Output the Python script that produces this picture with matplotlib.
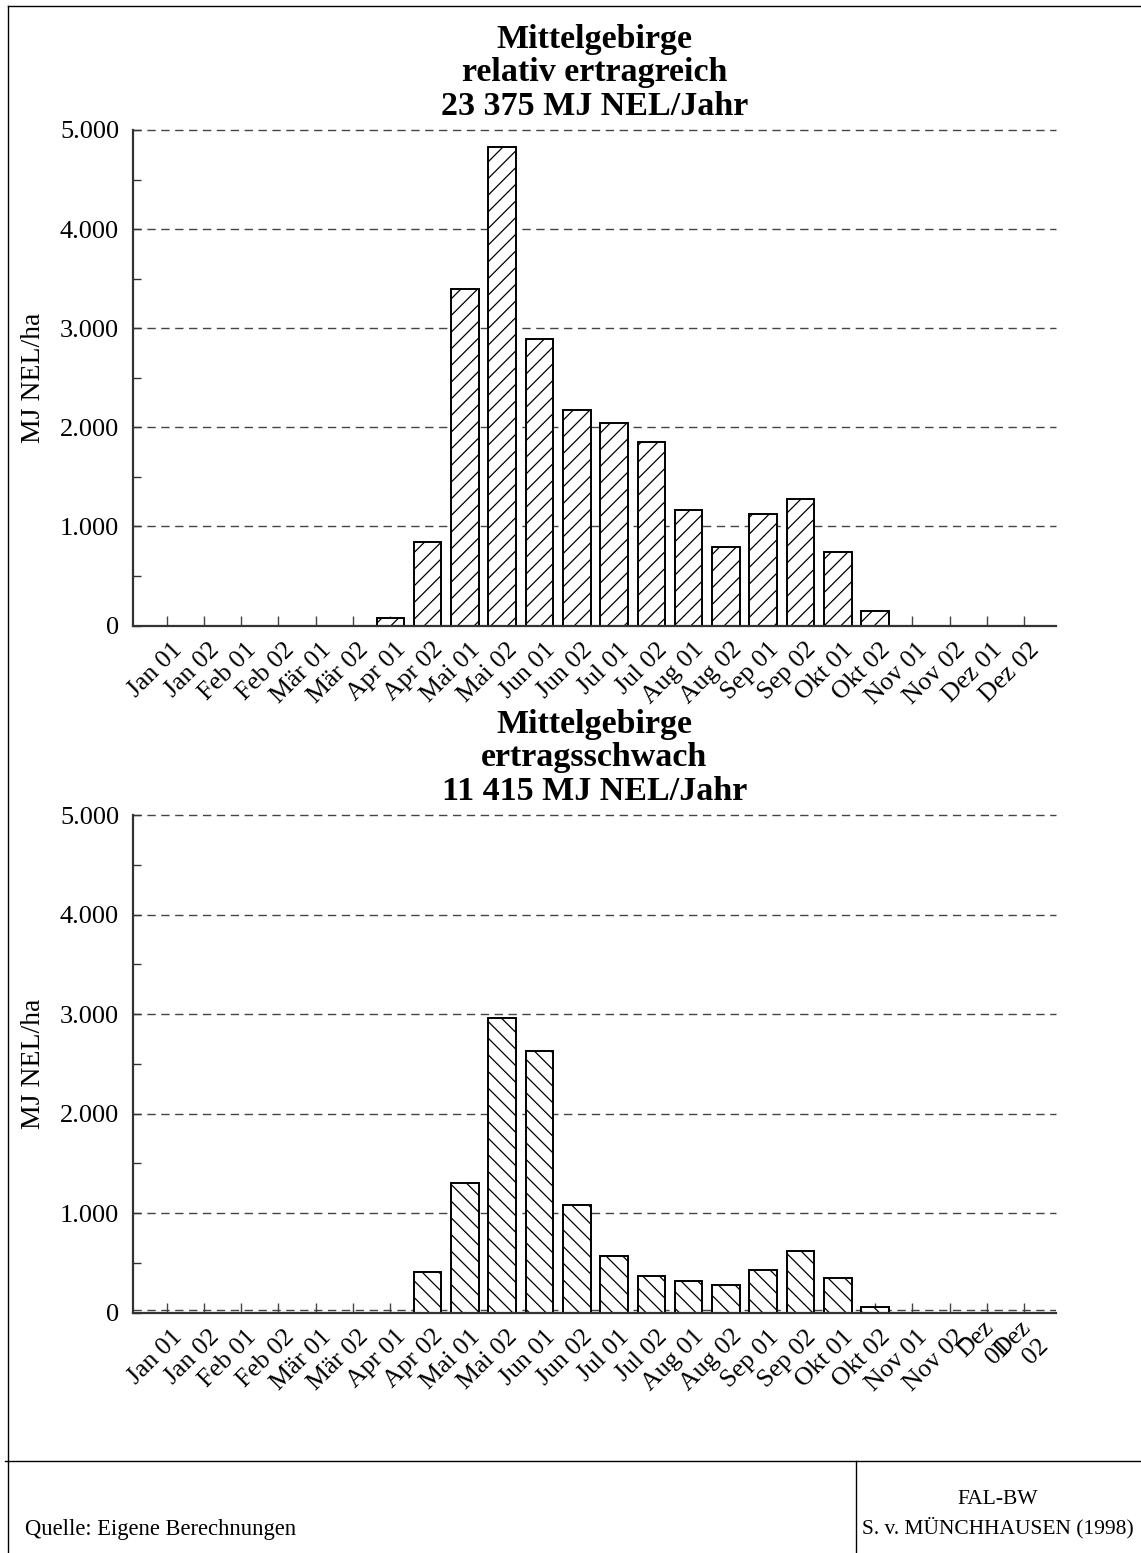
import matplotlib
matplotlib.use("Agg")
import matplotlib.pyplot as plt
import matplotlib.transforms as mtrans
from matplotlib.lines import Line2D
import numpy as np

plt.rcParams['font.family'] = ['Liberation Serif', 'DejaVu Serif']
plt.rcParams['hatch.linewidth'] = 0.9

categories = ["Jan 01", "Jan 02", "Feb 01", "Feb 02", "Mär 01", "Mär 02",
              "Apr 01", "Apr 02", "Mai 01", "Mai 02", "Jun 01", "Jun 02",
              "Jul 01", "Jul 02", "Aug 01", "Aug 02", "Sep 01", "Sep 02",
              "Okt 01", "Okt 02", "Nov 01", "Nov 02", "Dez 01", "Dez 02"]
labels_bottom = categories[:22] + ["Dez\n01", "Dez\n02"]

values_top = [0, 0, 0, 0, 0, 0, 75, 840, 3400, 4830, 2890, 2170,
              2040, 1850, 1170, 790, 1130, 1280, 745, 145, 0, 0, 0, 0]
values_bottom = [0, 0, 0, 0, 0, 0, 0, 405, 1305, 2960, 2630, 1084,
                 570, 365, 320, 275, 430, 615, 345, 60, 0, 0, 0, 0]

title_top = "Mittelgebirge\nrelativ ertragreich\n23 375 MJ NEL/Jahr"
title_bottom = "Mittelgebirge\nertragsschwach\n11 415 MJ NEL/Jahr"
ylabel = "MJ NEL/ha"
yticks = [0, 1000, 2000, 3000, 4000, 5000]
yticklabels = ["0", "1.000", "2.000", "3.000", "4.000", "5.000"]

W, H = 1141, 1553
fig = plt.figure(figsize=(W / 100, H / 100), dpi=100)

def fx(px):
    return px / W

def fy(py):
    return 1 - py / H

def make_axes(y0px, y5px, values, labels, hatch, title, baseline_dash=False):
    x0, x1 = 133, 1056
    ax = fig.add_axes([fx(x0), fy(y0px), fx(x1) - fx(x0), fy(y5px) - fy(y0px)])
    x = np.arange(len(values))
    ax.bar(x, values, width=0.74, color="white", edgecolor="black",
           linewidth=1.4, hatch=hatch, zorder=3)
    ax.set_xlim(-0.9, 23.85)
    ax.set_ylim(0, 5000)
    for s in ["top", "right"]:
        ax.spines[s].set_visible(False)
    for s in ["left", "bottom"]:
        ax.spines[s].set_color("#333333")
        ax.spines[s].set_linewidth(1.6)
        ax.spines[s].set_zorder(4)
    ax.set_yticks(yticks)
    ax.set_yticklabels(yticklabels, fontsize=19)
    ax.set_yticks(np.arange(500, 5000, 1000), minor=True)
    ax.tick_params(axis="y", which="both", direction="in", length=6,
                   width=1.0, color="#333333", pad=10)
    ax.set_xticks(x)
    ax.set_xticklabels(labels, fontsize=18.5, rotation=45, ha="right",
                       va="center", rotation_mode="anchor")
    ax.tick_params(axis="x", direction="in", length=7, width=1.0,
                   color="#444444", pad=15)
    offset = mtrans.ScaledTranslation(0.12, 0, fig.dpi_scale_trans)
    for lab in ax.get_xticklabels():
        lab.set_transform(lab.get_transform() + offset)
    for v in yticks[1:]:
        ax.axhline(v, color="#444444", lw=1.0, ls=(0, (6, 4)), zorder=1,
                   clip_on=False)
    if baseline_dash:
        ax.axhline(25, color="#444444", lw=1.0, ls=(0, (6, 4)), zorder=2)
    ax.set_ylabel(ylabel, fontsize=20)
    ax.yaxis.set_label_coords(-0.094, 0.5)
    ax.set_title(title, fontsize=24.5, fontweight="bold", linespacing=1.1,
                 pad=11)
    return ax

make_axes(625.5, 130, values_top, categories, "//", title_top)
make_axes(1312.7, 815, values_bottom, labels_bottom, "\\\\", title_bottom,
          baseline_dash=True)

# frame lines
lines = [
    ([8, W], [6, 6]),
    ([8, 8], [6, H]),
    ([5, W], [1461, 1461]),
    ([856, 856], [1461, H]),
]
for xs, ys in lines:
    fig.add_artist(Line2D([fx(v) for v in xs], [fy(v) for v in ys],
                          color="black", lw=1.0))

fig.text(fx(25), fy(1535), "Quelle: Eigene Berechnungen", fontsize=16.3,
         ha="left", va="baseline")
fig.text(fx(998), fy(1500), "FAL-BW", fontsize=15.5, ha="center", va="center")
fig.text(fx(998), fy(1528), "S. v. MÜNCHHAUSEN (1998)", fontsize=15.5,
         ha="center", va="center")

fig.savefig("out.png", dpi=100, facecolor="white")
